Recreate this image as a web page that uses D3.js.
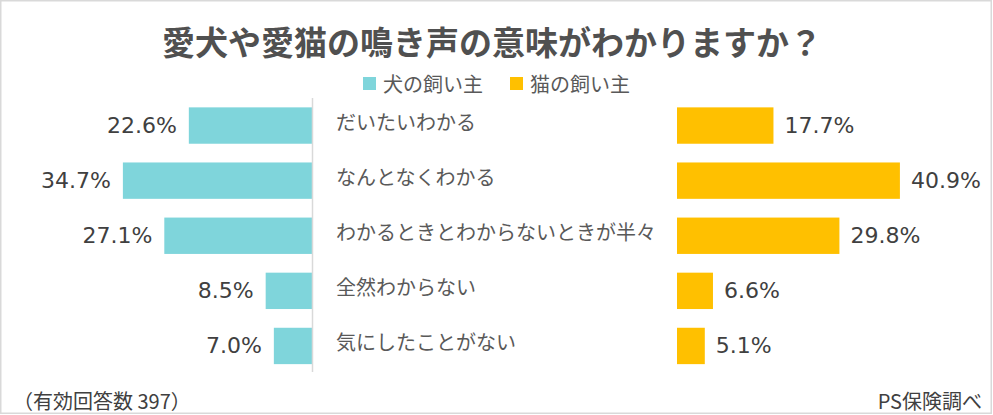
<!DOCTYPE html>
<html><head><meta charset="utf-8">
<script src="https://cdn.jsdelivr.net/npm/d3@7"></script>
<style>body{margin:0;background:#fff}svg{display:block}</style>
</head><body>
<script>
const categories = ["だいたいわかる","なんとなくわかる","わかるときとわからないときが半々","全然わからない","気にしたことがない"];
const dogValues = [22.6, 34.7, 27.1, 8.5, 7.0];
const catValues = [17.7, 40.9, 29.8, 6.6, 5.1];
const seriesNames = ["犬の飼い主","猫の飼い主"];
const title = "愛犬や愛猫の鳴き声の意味がわかりますか？";
const note = "（有効回答数 397）";
const source = "PS保険調べ";

const W = 993, H = 415;
const colors = ["#7fd5db", "#ffc000"];
const jp = "'Noto Sans CJK JP', 'Noto Sans', sans-serif";
const num = "'DejaVu Sans', Verdana, sans-serif";

const svg = d3.select("body").append("svg").attr("width", W).attr("height", H);
svg.append("rect").attr("x",0.75).attr("y",0.75).attr("width",W-2.5).attr("height",H-2.5)
  .attr("fill","#fff").attr("stroke","#d9d9d9").attr("stroke-width",1.5);

svg.append("text").attr("x", 492).attr("y", 55).attr("text-anchor","middle")
  .attr("font-family", jp).attr("font-weight","bold").attr("font-size",33)
  .attr("fill","#505050").text(title);

// legend
const legX = [363, 510];
seriesNames.forEach((s,i)=>{
  svg.append("rect").attr("x",legX[i]).attr("y",77).attr("width",13).attr("height",13).attr("fill",colors[i]);
  svg.append("text").attr("x",legX[i]+20).attr("y",83).attr("dominant-baseline","central")
    .attr("font-family",jp).attr("font-size",20).attr("fill","#595959").text(s);
});

const y = d3.scaleBand().domain(categories).range([98, 373.5]).paddingInner(0.34).paddingOuter(0.17);
const xL = d3.scaleLinear().domain([0,50]).range([312, 312-272.5]);
const xR = d3.scaleLinear().domain([0,50]).range([677, 677+272.5]);

// left bars
svg.append("g").selectAll("rect").data(dogValues).join("rect")
  .attr("x", d=>xL(d)).attr("y",(d,i)=>y(categories[i]))
  .attr("width", d=>xL(0)-xL(d)).attr("height", y.bandwidth()).attr("fill", colors[0]);
svg.append("g").selectAll("text").data(dogValues).join("text")
  .attr("x", d=>xL(d)-12).attr("y",(d,i)=>y(categories[i])+y.bandwidth()/2)
  .attr("dominant-baseline","central").attr("text-anchor","end")
  .attr("font-family",num).attr("font-size",22).attr("fill","#404040")
  .text(d=>d.toFixed(1)+"%");

// right bars
svg.append("g").selectAll("rect").data(catValues).join("rect")
  .attr("x", xR(0)).attr("y",(d,i)=>y(categories[i]))
  .attr("width", d=>xR(d)-xR(0)).attr("height", y.bandwidth()).attr("fill", colors[1]);
svg.append("g").selectAll("text").data(catValues).join("text")
  .attr("x", d=>xR(d)+11).attr("y",(d,i)=>y(categories[i])+y.bandwidth()/2)
  .attr("dominant-baseline","central").attr("text-anchor","start")
  .attr("font-family",num).attr("font-size",22).attr("fill","#404040")
  .text(d=>d.toFixed(1)+"%");

// axis line
svg.append("line").attr("x1",312.5).attr("x2",312.5).attr("y1",98).attr("y2",372)
  .attr("stroke","#d9d9d9").attr("stroke-width",1.5);

// category labels
svg.append("g").selectAll("text").data(categories).join("text")
  .attr("x",336).attr("y",d=>y(d)+y.bandwidth()/2-4)
  .attr("dominant-baseline","central")
  .attr("font-family",jp).attr("font-size",20).attr("fill","#595959").text(d=>d);

svg.append("text").attr("x",13).attr("y",400).attr("dominant-baseline","central")
  .attr("font-family",jp).attr("font-size",20).attr("fill","#404040").text(note);
svg.append("text").attr("x",982).attr("y",400).attr("dominant-baseline","central").attr("text-anchor","end")
  .attr("font-family",jp).attr("font-size",20).attr("fill","#404040").text(source);
</script>
</body></html>
